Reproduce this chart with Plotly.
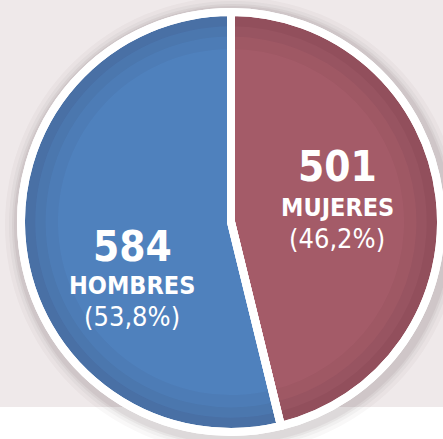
import plotly.graph_objects as go

# Data
labels = ["MUJERES", "HOMBRES"]
values = [501, 584]
percent_labels = ["(46,2%)", "(53,8%)"]
colors = ["#a45b68", "#4f81bd"]

W, H = 443, 439
CX, CY, R = 231, 222, 210  # pixel geometry (from top-left)

def px(x):
    return x / W

def py(y):
    return 1 - y / H

def dom(r):
    return dict(x=[px(CX - r), px(CX + r)], y=[py(CY + r), py(CY - r)])

fig = go.Figure()
fig.add_trace(go.Pie(
    labels=labels, values=values, sort=False, direction="clockwise", rotation=0,
    marker=dict(colors=colors, line=dict(color="white", width=8)),
    textinfo="none", hoverinfo="label+value+percent", showlegend=False,
    domain=dom(R),
))
# subtle edge darkening (vignette)
for hole, a in [(0.95, 0.06), (0.9, 0.05), (0.84, 0.04)]:
    fig.add_trace(go.Pie(
        labels=labels, values=values, sort=False, direction="clockwise", rotation=0,
        hole=hole, marker=dict(colors=[f"rgba(40,20,30,{a})"] * 2, line=dict(width=0)),
        textinfo="none", hoverinfo="skip", showlegend=False, domain=dom(R - 4),
    ))
# redraw white separators on top
fig.add_trace(go.Pie(
    labels=labels, values=values, sort=False, direction="clockwise", rotation=0,
    marker=dict(colors=["rgba(0,0,0,0)"] * 2, line=dict(color="white", width=8)),
    textinfo="none", hoverinfo="skip", showlegend=False, domain=dom(R),
))

shapes = [
    dict(type="rect", xref="paper", yref="paper", x0=0, x1=1, y0=0, y1=py(407),
         fillcolor="white", line=dict(width=0), layer="below"),
]
for dr, a in [(14, 0.03), (10, 0.04), (7, 0.05), (5, 0.06)]:
    rr = R + 4 + dr
    shapes.append(dict(type="circle", xref="paper", yref="paper",
                       x0=px(CX - rr + 2), x1=px(CX + rr + 2),
                       y0=py(CY + rr + 3), y1=py(CY - rr + 3),
                       fillcolor=f"rgba(60,40,45,{a})", line=dict(width=0), layer="below"))

font_family = "DejaVu Sans Condensed, DejaVu Sans, sans-serif"
annotations = []
# label positions (pixel centers) per slice
pos = {"MUJERES": (337, 167, 207, 238), "HOMBRES": (132, 246, 285, 316)}
for lab, val, pct in zip(labels, values, percent_labels):
    x, y1, y2, y3 = pos[lab]
    annotations.append(dict(x=px(x), y=py(y1), text=f"<b>{val}</b>", font=dict(size=42, color="white", family=font_family)))
    annotations.append(dict(x=px(x), y=py(y2), text=f"<b>{lab}</b>", font=dict(size=25, color="white", family=font_family)))
    annotations.append(dict(x=px(x), y=py(y3), text=pct, font=dict(size=27, color="white", family=font_family)))
for a in annotations:
    a.update(xref="paper", yref="paper", showarrow=False, xanchor="center", yanchor="middle")

fig.update_layout(
    width=W, height=H, margin=dict(l=0, r=0, t=0, b=0),
    paper_bgcolor="#efe9ea", plot_bgcolor="#efe9ea",
    shapes=shapes, annotations=annotations,
)
fig.write_html("out.html", config={"displayModeBar": False},
               post_script="document.body.style.margin='0';document.body.style.overflow='hidden';")
